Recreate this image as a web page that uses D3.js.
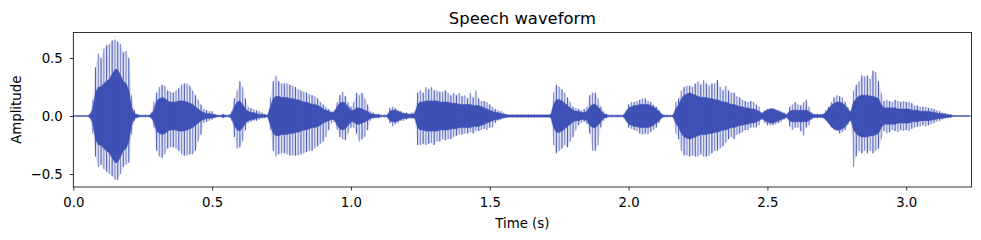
<html>
<head>
<meta charset="utf-8">
<script src="https://d3js.org/d3.v7.min.js"></script>
<style>
  body { margin: 0; background: #fff; }
  text { font-family: "DejaVu Sans", sans-serif; fill: #000; }
</style>
</head>
<body>
<div id="chart"></div>
<script>

// envelope of the waveform, one entry every 10 ms starting at t = 0
var dt = 0.01;

var hi = [
  0.005,0.005,0.005,0.005,0.005,0.005,0.02,0.14,0.42,0.54,
  0.50,0.58,0.61,0.62,0.65,0.66,0.64,0.62,0.55,0.56,
  0.50,0.18,0.05,0.02,0.01,0.01,0.01,0.01,0.03,0.12,
  0.20,0.25,0.27,0.26,0.22,0.21,0.20,0.22,0.24,0.27,
  0.28,0.28,0.26,0.22,0.18,0.14,0.10,0.06,0.05,0.04,
  0.04,0.02,0.01,0.01,0.02,0.01,0.01,0.04,0.15,0.22,
  0.30,0.25,0.15,0.08,0.07,0.06,0.05,0.04,0.03,0.02,
  0.01,0.16,0.30,0.35,0.30,0.28,0.28,0.28,0.27,0.26,
  0.25,0.23,0.22,0.21,0.20,0.19,0.18,0.17,0.15,0.12,
  0.10,0.08,0.06,0.04,0.05,0.12,0.18,0.21,0.17,0.12,
  0.08,0.12,0.20,0.18,0.20,0.15,0.10,0.04,0.03,0.02,
  0.02,0.01,0.01,0.01,0.07,0.08,0.07,0.05,0.04,0.03,
  0.03,0.02,0.03,0.04,0.20,0.22,0.20,0.25,0.23,0.25,
  0.22,0.22,0.21,0.21,0.22,0.20,0.18,0.20,0.18,0.20,
  0.17,0.18,0.15,0.20,0.16,0.22,0.15,0.13,0.13,0.12,
  0.10,0.08,0.06,0.05,0.04,0.03,0.015,0.012,0.012,0.012,
  0.012,0.012,0.012,0.012,0.012,0.012,0.012,0.012,0.012,0.012,
  0.012,0.012,0.02,0.20,0.27,0.25,0.23,0.20,0.16,0.12,
  0.08,0.07,0.06,0.05,0.06,0.08,0.18,0.20,0.20,0.15,
  0.08,0.04,0.02,0.01,0.01,0.01,0.01,0.01,0.01,0.05,
  0.10,0.12,0.12,0.13,0.14,0.15,0.15,0.13,0.12,0.10,
  0.08,0.05,0.02,0.01,0.01,0.01,0.01,0.12,0.15,0.22,
  0.25,0.26,0.26,0.25,0.28,0.30,0.27,0.31,0.28,0.26,
  0.28,0.28,0.31,0.25,0.22,0.26,0.22,0.20,0.20,0.17,
  0.16,0.14,0.13,0.12,0.13,0.12,0.10,0.08,0.03,0.05,
  0.06,0.07,0.07,0.06,0.05,0.04,0.03,0.02,0.08,0.10,
  0.12,0.10,0.09,0.12,0.14,0.08,0.03,0.02,0.02,0.02,
  0.02,0.05,0.08,0.12,0.16,0.18,0.17,0.16,0.12,0.08,
  0.04,0.22,0.27,0.30,0.35,0.34,0.35,0.32,0.39,0.38,
  0.30,0.20,0.13,0.14,0.13,0.12,0.14,0.13,0.12,0.13,
  0.12,0.12,0.11,0.09,0.09,0.08,0.08,0.08,0.07,0.07,
  0.06,0.05,0.04,0.03,0.025,0.02,0.015,0.005,0.005,0.005,
  0.005,0.005,0.005,0.005
];

var lo = [
  -0.005,-0.005,-0.005,-0.005,-0.005,-0.005,-0.02,-0.15,-0.35,-0.44,
  -0.42,-0.46,-0.48,-0.50,-0.52,-0.55,-0.55,-0.50,-0.44,-0.42,
  -0.40,-0.16,-0.04,-0.02,-0.01,-0.01,-0.01,-0.01,-0.02,-0.10,
  -0.30,-0.35,-0.36,-0.33,-0.28,-0.27,-0.27,-0.28,-0.30,-0.33,
  -0.34,-0.34,-0.33,-0.33,-0.30,-0.22,-0.16,-0.06,-0.05,-0.04,
  -0.03,-0.02,-0.01,-0.01,-0.02,-0.01,-0.01,-0.04,-0.18,-0.28,
  -0.27,-0.22,-0.12,-0.06,-0.05,-0.04,-0.04,-0.03,-0.02,-0.02,
  -0.01,-0.12,-0.30,-0.35,-0.33,-0.32,-0.32,-0.33,-0.34,-0.34,
  -0.34,-0.34,-0.33,-0.32,-0.31,-0.30,-0.30,-0.28,-0.26,-0.24,
  -0.22,-0.18,-0.12,-0.06,-0.05,-0.12,-0.18,-0.20,-0.21,-0.15,
  -0.10,-0.10,-0.15,-0.22,-0.20,-0.18,-0.12,-0.04,-0.02,-0.02,
  -0.02,-0.01,-0.01,-0.01,-0.06,-0.09,-0.07,-0.06,-0.04,-0.04,
  -0.03,-0.02,-0.02,-0.02,-0.25,-0.25,-0.24,-0.25,-0.24,-0.23,
  -0.25,-0.22,-0.22,-0.20,-0.21,-0.20,-0.20,-0.18,-0.17,-0.16,
  -0.16,-0.15,-0.15,-0.14,-0.15,-0.13,-0.13,-0.12,-0.11,-0.12,
  -0.10,-0.10,-0.06,-0.04,-0.03,-0.02,-0.015,-0.012,-0.012,-0.012,
  -0.012,-0.012,-0.012,-0.012,-0.012,-0.012,-0.012,-0.012,-0.012,-0.012,
  -0.012,-0.012,-0.02,-0.25,-0.32,-0.30,-0.28,-0.25,-0.27,-0.22,
  -0.18,-0.12,-0.08,-0.06,-0.05,-0.07,-0.15,-0.30,-0.30,-0.25,
  -0.10,-0.04,-0.02,-0.01,-0.01,-0.01,-0.01,-0.01,-0.01,-0.05,
  -0.10,-0.11,-0.12,-0.13,-0.15,-0.16,-0.15,-0.16,-0.14,-0.12,
  -0.10,-0.06,-0.02,-0.01,-0.01,-0.01,-0.01,-0.15,-0.20,-0.30,
  -0.34,-0.34,-0.35,-0.34,-0.35,-0.35,-0.33,-0.35,-0.35,-0.34,
  -0.32,-0.30,-0.30,-0.28,-0.26,-0.23,-0.20,-0.18,-0.20,-0.16,
  -0.15,-0.14,-0.12,-0.12,-0.10,-0.10,-0.10,-0.08,-0.03,-0.06,
  -0.08,-0.08,-0.08,-0.07,-0.06,-0.05,-0.03,-0.02,-0.09,-0.12,
  -0.10,-0.10,-0.13,-0.17,-0.10,-0.08,-0.03,-0.02,-0.02,-0.02,
  -0.02,-0.04,-0.06,-0.10,-0.12,-0.13,-0.15,-0.14,-0.12,-0.08,
  -0.04,-0.44,-0.35,-0.30,-0.32,-0.30,-0.32,-0.30,-0.32,-0.30,
  -0.28,-0.20,-0.13,-0.15,-0.14,-0.12,-0.13,-0.14,-0.12,-0.13,
  -0.12,-0.13,-0.11,-0.10,-0.09,-0.09,-0.08,-0.09,-0.08,-0.07,
  -0.06,-0.05,-0.04,-0.03,-0.02,-0.02,-0.015,-0.005,-0.005,-0.005,
  -0.005,-0.005,-0.005,-0.005
];

var core = [
  0.003,0.003,0.003,0.003,0.003,0.003,0.01,0.06,0.20,0.25,
  0.25,0.28,0.30,0.32,0.36,0.40,0.40,0.35,0.30,0.28,
  0.22,0.08,0.02,0.01,0.005,0.005,0.005,0.005,0.01,0.05,
  0.13,0.15,0.16,0.15,0.13,0.12,0.12,0.12,0.13,0.13,
  0.13,0.12,0.11,0.10,0.08,0.06,0.04,0.03,0.02,0.02,
  0.015,0.01,0.005,0.005,0.01,0.005,0.005,0.02,0.08,0.12,
  0.13,0.10,0.06,0.04,0.03,0.03,0.02,0.015,0.01,0.01,
  0.005,0.08,0.15,0.17,0.17,0.16,0.16,0.16,0.15,0.15,
  0.14,0.14,0.13,0.12,0.12,0.11,0.10,0.10,0.09,0.08,
  0.06,0.05,0.04,0.03,0.03,0.08,0.11,0.12,0.11,0.08,
  0.05,0.05,0.07,0.07,0.06,0.05,0.04,0.02,0.015,0.01,
  0.01,0.005,0.005,0.005,0.04,0.05,0.05,0.04,0.03,0.02,
  0.02,0.015,0.015,0.02,0.10,0.12,0.12,0.13,0.13,0.13,
  0.13,0.13,0.12,0.12,0.12,0.12,0.11,0.11,0.11,0.10,
  0.10,0.10,0.10,0.10,0.09,0.09,0.09,0.08,0.07,0.06,
  0.05,0.04,0.03,0.03,0.02,0.015,0.01,0.008,0.008,0.008,
  0.008,0.008,0.008,0.008,0.008,0.008,0.008,0.008,0.008,0.008,
  0.008,0.008,0.01,0.10,0.14,0.14,0.13,0.11,0.09,0.07,
  0.05,0.04,0.04,0.03,0.03,0.04,0.08,0.10,0.10,0.08,
  0.05,0.02,0.01,0.005,0.005,0.005,0.005,0.005,0.005,0.03,
  0.07,0.08,0.09,0.09,0.10,0.10,0.10,0.10,0.09,0.08,
  0.06,0.04,0.01,0.005,0.005,0.005,0.005,0.06,0.10,0.15,
  0.18,0.19,0.20,0.19,0.18,0.17,0.16,0.16,0.16,0.15,
  0.15,0.14,0.14,0.13,0.12,0.12,0.11,0.10,0.10,0.09,
  0.08,0.08,0.07,0.07,0.06,0.06,0.05,0.04,0.02,0.04,
  0.05,0.06,0.06,0.05,0.04,0.03,0.02,0.01,0.04,0.05,
  0.05,0.05,0.05,0.05,0.05,0.04,0.015,0.01,0.01,0.01,
  0.01,0.03,0.06,0.09,0.11,0.12,0.12,0.11,0.09,0.06,
  0.03,0.12,0.15,0.17,0.18,0.18,0.18,0.17,0.17,0.16,
  0.15,0.10,0.07,0.07,0.07,0.07,0.07,0.06,0.06,0.06,
  0.06,0.06,0.05,0.05,0.05,0.04,0.04,0.04,0.04,0.035,
  0.03,0.025,0.02,0.02,0.015,0.01,0.008,0.003,0.003,0.003,
  0.003,0.003,0.003,0.003
];

var xTicks = [0, 0.5, 1.0, 1.5, 2.0, 2.5, 3.0];
var yTicks = [-0.5, 0.0, 0.5];

var color = "#3f51b5";

var margin = {top: 32.5, right: 9.5, bottom: 53, left: 73.3};
var width = 981 - margin.left - margin.right;
var height = 240 - margin.top - margin.bottom;

var svg = d3.select("#chart")
  .append("svg")
    .attr("width", 981)
    .attr("height", 240)
  .append("g")
    .attr("transform", "translate(" + margin.left + "," + margin.top + ")");

var x = d3.scaleLinear().domain([0, 3.235]).range([0, width]);
var y = d3.scaleLinear().domain([-0.612, 0.72]).range([height, 0]);

svg.append("clipPath").attr("id", "clip")
  .append("rect").attr("width", width).attr("height", height);

var samples = hi.map(function(h, i) {
  return {t: i * dt, hi: h, lo: lo[i], core: core[i]};
});

var plot = svg.append("g").attr("clip-path", "url(#clip)");

// faint wash over the full peak range
plot.append("path")
  .datum(samples)
  .attr("fill", color)
  .attr("fill-opacity", 0.16)
  .attr("d", d3.area()
    .x(function(d) { return x(d.t); })
    .y0(function(d) { return y(d.lo); })
    .y1(function(d) { return y(d.hi); }));

// dense core of the signal
plot.append("path")
  .datum(samples)
  .attr("fill", color)
  .attr("stroke", color)
  .attr("stroke-width", 0.6)
  .attr("d", d3.area()
    .x(function(d) { return x(d.t); })
    .y0(function(d) { return y(-d.core); })
    .y1(function(d) { return y(d.core); }));

// spikes out to the peak values
plot.selectAll("line.spike")
  .data(samples)
  .enter()
  .append("line")
    .attr("class", "spike")
    .attr("x1", function(d) { return x(d.t); })
    .attr("x2", function(d) { return x(d.t); })
    .attr("y1", function(d) { return y(d.lo); })
    .attr("y2", function(d) { return y(d.hi); })
    .attr("stroke", color)
    .attr("stroke-width", 1.1)
    .attr("stroke-opacity", function(d, i) { return i % 2 ? 0.6 : 0.9; });

// axes
var xAxis = svg.append("g")
  .attr("transform", "translate(0," + height + ")")
  .call(d3.axisBottom(x).tickValues(xTicks).tickFormat(d3.format(".1f"))
    .tickSize(3.5).tickPadding(7));
var yAxis = svg.append("g")
  .call(d3.axisLeft(y).tickValues(yTicks).tickFormat(d3.format(".1f"))
    .tickSize(3.5).tickPadding(7));

[xAxis, yAxis].forEach(function(a) {
  a.select(".domain").remove();
  a.selectAll("line").attr("stroke", "#000").attr("stroke-width", 0.8);
  a.selectAll("text").style("font-size", "13.3px")
    .style("font-family", "DejaVu Sans");
});

svg.append("rect")
  .attr("width", width)
  .attr("height", height)
  .attr("fill", "none")
  .attr("stroke", "#000")
  .attr("stroke-width", 0.8);

// labels
svg.append("text")
  .attr("x", width / 2)
  .attr("y", 24 - margin.top)
  .attr("text-anchor", "middle")
  .style("font-size", "16.4px")
  .text("Speech waveform");

svg.append("text")
  .attr("x", width / 2)
  .attr("y", 228 - margin.top)
  .attr("text-anchor", "middle")
  .style("font-size", "13.3px")
  .text("Time (s)");

svg.append("text")
  .attr("transform", "translate(" + (21 - margin.left) + "," + (height / 2) + ")rotate(-90)")
  .attr("text-anchor", "middle")
  .style("font-size", "13.3px")
  .text("Amplitude");

</script>
</body>
</html>
